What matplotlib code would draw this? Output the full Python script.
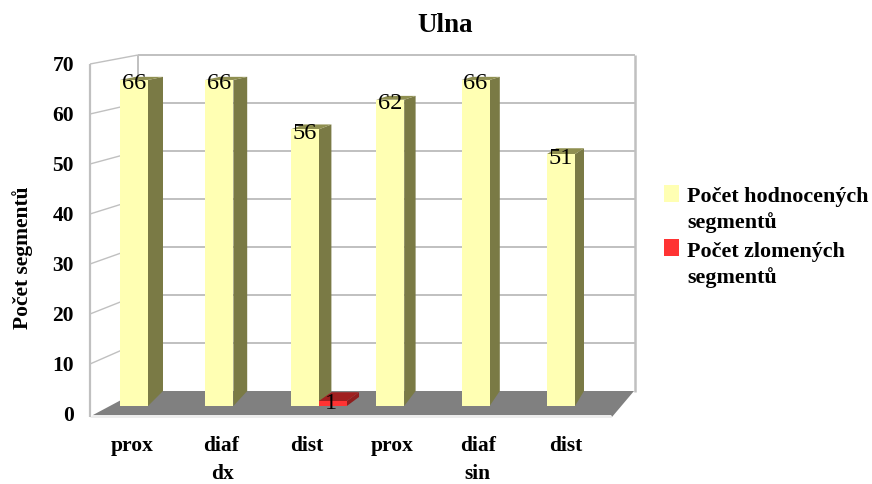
#!/usr/bin/env python3
"""Ulna - pocet segmentu, sloupcovy graf v Excel 3D stylu"""

import matplotlib
matplotlib.use('Agg')
import matplotlib.pyplot as plt
from matplotlib.patches import Polygon, Rectangle

plt.rcParams['font.family'] = ['Liberation Serif', 'DejaVu Serif']
plt.rcParams['font.weight'] = 'bold'

# Data
categories = ['prox', 'diaf', 'dist', 'prox', 'diaf', 'dist']
groups = ['dx', 'sin']
hodnocene = [66, 66, 56, 62, 66, 51]
zlomene = [0, 0, 1, 0, 0, 0]
y_ticks = [0, 10, 20, 30, 40, 50, 60, 70]

series_names = ['Počet hodnocených\nsegmentů', 'Počet zlomených\nsegmentů']

# Barvy
C_FACE = '#FFFFB3'
C_SIDE = '#7A7A45'
C_TOP = '#8F8F50'
C_RED = '#FF3333'
C_RED_SIDE = '#8F1D1D'
C_RED_TOP = '#A01F1F'
C_FLOOR = '#808080'
C_WALL = '#C0C0C0'

W, H = 872, 485
fig = plt.figure(figsize=(W / 100, H / 100), dpi=100, facecolor='white')
ax = fig.add_axes([0, 0, 1, 1])
ax.axis('off')

# Osy: x je index kategorie (1 = 85.4 px), y je hodnota (1 = 4.94 px) v rovine cela sloupcu
X0_PX, XU_PX = 148, 85.4
Y0_PX, YU_PX = 407, 4.94
ax.set_xlim(-X0_PX / XU_PX, (W - X0_PX) / XU_PX)
ax.set_ylim(-(H - Y0_PX) / YU_PX, Y0_PX / YU_PX)


def px(xp, yp):
    """pixel -> data"""
    return (xp - X0_PX) / XU_PX, (Y0_PX - yp) / YU_PX


def back(x, v, lift=15):
    """Posun bodu v cele sloupce na zadni stranu (perspektiva)"""
    xp = X0_PX + x * XU_PX
    off = 15 - (xp - X0_PX) * 6 / 427
    return x + off / XU_PX, (lift + 4.76 * v) / YU_PX


def poly(points, color, z):
    ax.add_patch(Polygon([px(*p) for p in points], closed=True, facecolor=color,
                         edgecolor='none', zorder=z))


def wall_line(x1, y1, x2, y2, lw=1.4):
    a, b = px(x1, y1), px(x2, y2)
    ax.plot([a[0], b[0]], [a[1], b[1]], color=C_WALL, lw=lw, zorder=1,
            solid_capstyle='butt')


# Steny a mrizka
for t in y_ticks:
    yb = 392 - 4.8 * t
    yf = 415 - 5.0 * t
    if t > 0:
        wall_line(138, yb, 635, yb)
        wall_line(90, yf, 138, yb, lw=1.0)
wall_line(90, 65, 90, 418, lw=1.6)
wall_line(138, 56, 138, 392)
wall_line(635, 56, 635, 393, lw=1.8)

# Podlaha
poly([(93, 416), (138, 392), (634, 392), (612, 418), (611, 416)], C_FLOOR, 2)
poly([(93, 416), (611, 416), (612, 419), (90, 419)], '#EDEDED', 2)

# Sloupce
w = 28 / XU_PX
for i, (a, b) in enumerate(zip(hodnocene, zlomene)):
    x = i - w
    ax.bar(x, a, width=w, align='edge', color=C_FACE, zorder=4)
    bx, bv = back(x + w, 0)
    tx, tv = back(x + w, a)
    lx, lv = back(x, a)
    ax.add_patch(Polygon([(x + w, 0), (bx, bv), (tx, tv), (x + w, a)],
                         facecolor=C_SIDE, edgecolor='none', zorder=3))
    ax.add_patch(Polygon([(x, a), (lx, lv), (tx, tv), (x + w, a)],
                         facecolor=C_TOP, edgecolor='none', zorder=3))
    ax.text(x + w / 2, a - 0.6, str(a), ha='center', va='center', fontsize=17.5,
            fontweight='normal', color='black', zorder=7)
    if b > 0:
        x2 = i
        ax.bar(x2, b, width=w, align='edge', color=C_RED, zorder=4)
        bx, bv = back(x2 + w, 0, lift=9)
        tx, tv = back(x2 + w, b, lift=9)
        lx, lv = back(x2, b, lift=9)
        ax.add_patch(Polygon([(x2 + w, 0), (bx, bv), (tx, tv), (x2 + w, b)],
                             facecolor=C_RED_SIDE, edgecolor='none', zorder=3))
        ax.add_patch(Polygon([(x2, b), (lx, lv), (tx, tv), (x2 + w, b)],
                             facecolor=C_RED_TOP, edgecolor='none', zorder=3))
        ax.text(x2 + w / 2 - 0.02, b - 0.3, str(b), ha='center', va='center', fontsize=17.5,
                fontweight='normal', color='black', zorder=7)

# Popisky osy y
for t in y_ticks:
    ax.text(px(74, 0)[0], px(0, 416 - 5.0 * t)[1], str(t), ha='right', va='center',
            fontsize=15.5)

# Popisky kategorii
label_px = [132, 221, 307, 392, 478, 566]
for lp, c in zip(label_px, categories):
    ax.text(px(lp, 0)[0], px(0, 446)[1], c, ha='center', va='center', fontsize=15.5)
for lp, g in zip([222, 477], groups):
    ax.text(px(lp, 0)[0], px(0, 474)[1], g, ha='center', va='center', fontsize=15.5)

# Nazev a osa y
ax.text(*px(445, 26), 'Ulna', ha='center', va='center', fontsize=19.5)
ax.text(*px(23, 258), 'Počet segmentů', ha='center', va='center', rotation=90, fontsize=15.5)

# Legenda
for yp, ym, col, name in zip([210, 265], [186, 240], [C_FACE, C_RED], series_names):
    x0, y0 = px(664, ym + 17)
    ax.add_patch(Rectangle((x0, y0), 15 / XU_PX, 17 / YU_PX, facecolor=col, edgecolor='none'))
    ax.text(*px(687, yp), name, ha='left', va='center', fontsize=15.8, linespacing=1.33)

fig.savefig('out.png', dpi=100, facecolor='white')
